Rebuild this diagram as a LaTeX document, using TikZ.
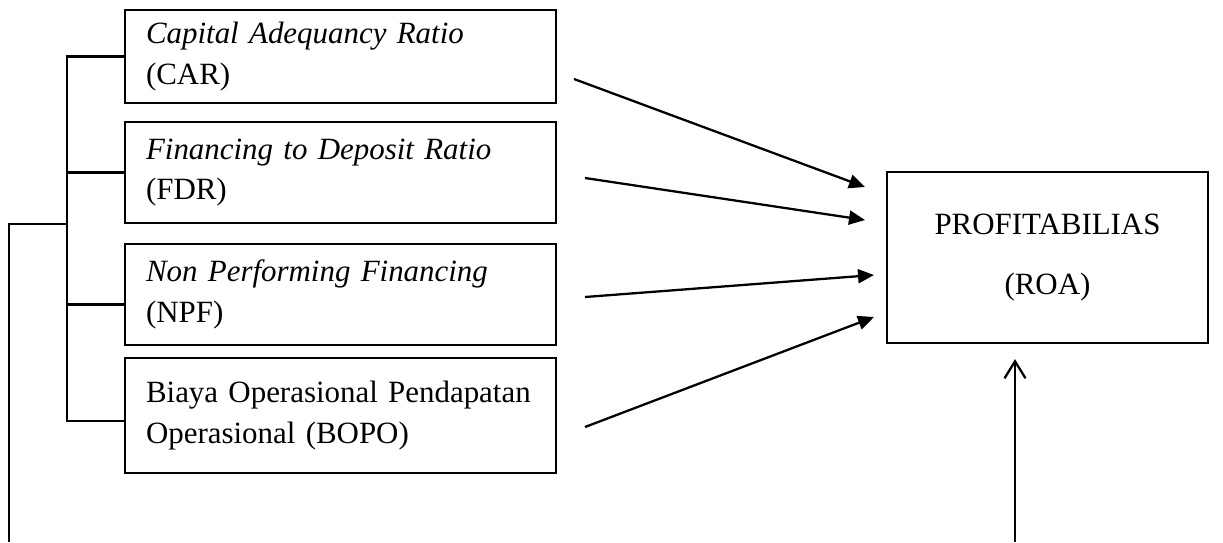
\documentclass[tikz,border=0pt]{standalone}
\usepackage{fontspec}
\setmainfont{Liberation Serif}
\usepackage{tikz}
\usetikzlibrary{arrows.meta, positioning, calc}
\tikzset{
	varbox/.style   ={rectangle, draw=black, line width=1.3pt, minimum width=8.62cm, text width=7.78cm, inner xsep=0.42cm, align=left, font={\fontsize{17.6}{23}\selectfont}},
	resbox/.style   ={rectangle, draw=black, line width=1.3pt, minimum width=6.42cm, minimum height=3.42cm, align=center, font={\fontsize{17.6}{34}\selectfont}},
	link/.style     ={line width=1.3pt},
	flowarrow/.style={-{Triangle[length=0.32cm, width=0.28cm]}, line width=1.3pt},
	backarrow/.style={-{Straight Barb[length=0.34cm, width=0.42cm, line width=1.3pt]}, line width=1.3pt},
}
\begin{document}
\begin{tikzpicture}[x=0.02cm, y=-0.02cm]
	\useasboundingbox (0,0) rectangle (1223,542);
	% variable boxes
	\node[varbox, minimum height=1.86cm] (car)  at (340.5,56.5)  {\textit{Capital Adequancy Ratio}\\(CAR)};
	\node[varbox, minimum height=2.02cm] (fdr)  at (340.5,172.5) {\textit{Financing to Deposit Ratio}\\(FDR)};
	\node[varbox, minimum height=2.02cm] (npf)  at (340.5,294.5) {\textit{Non Performing Financing}\\(NPF)};
	\node[varbox, minimum height=2.30cm] (bopo) at (340.5,415.5) {Biaya Operasional Pendapatan\\Operasional (BOPO)};
	\node[resbox] (roa) at (1047.5,257.5) {PROFITABILIAS\\(ROA)};
	% bracket on the left
	\coordinate (sp) at (67,0);
	\draw[link] (car.west) -- (car.west -| sp) -- ([yshift=-0.11cm]bopo.west -| sp) -- ([yshift=-0.11cm]bopo.west);
	\draw[link] (fdr.west) -- (fdr.west -| sp);
	\draw[link] ([yshift=-0.2cm]npf.west) -- ([yshift=-0.2cm]npf.west -| sp);
	% feedback line
	\coordinate (fbJoin)   at (67,224);
	\coordinate (fbCorner) at (9,224);
	\coordinate (fbLeft)   at (9,542);
	\coordinate (fbRight)  at (1015,542);
	\draw[link] (fbJoin) -- (fbCorner) -- (fbLeft);
	\draw[backarrow] (fbRight) -- ([yshift=-0.3cm]roa.south -| fbRight);
	% arrows to ROA
	\coordinate (carOut)  at (574,79);
	\coordinate (fdrOut)  at (585,178);
	\coordinate (npfOut)  at (585,297);
	\coordinate (bopoOut) at (585,427);
	\coordinate (carIn)   at (865,187);
	\coordinate (fdrIn)   at (865,220);
	\coordinate (npfIn)   at (874,275);
	\coordinate (bopoIn)  at (874,317);
	\draw[flowarrow] (carOut)  -- (carIn);
	\draw[flowarrow] (fdrOut)  -- (fdrIn);
	\draw[flowarrow] (npfOut)  -- (npfIn);
	\draw[flowarrow] (bopoOut) -- (bopoIn);
\end{tikzpicture}
\end{document}
